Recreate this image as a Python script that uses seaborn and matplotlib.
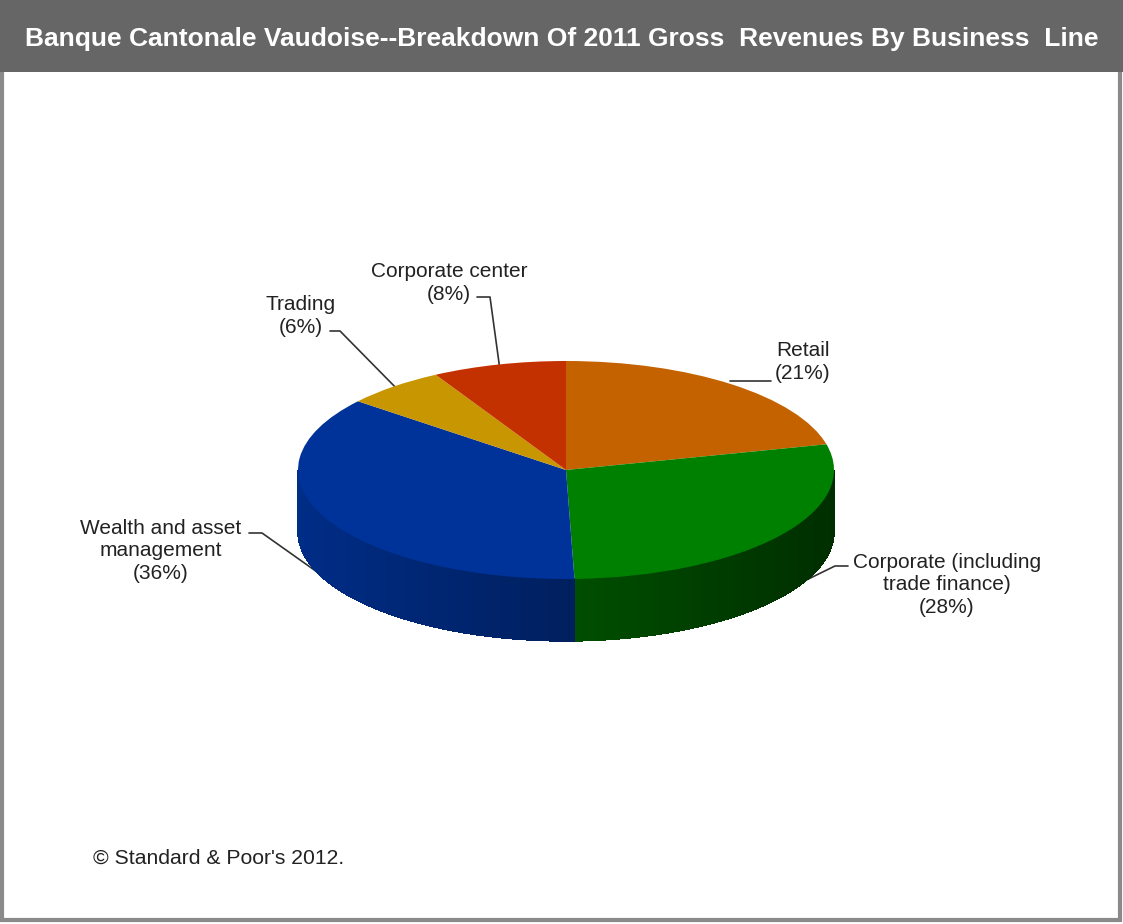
import numpy as np
import matplotlib
matplotlib.use("Agg")
import matplotlib.pyplot as plt
import seaborn as sns
from matplotlib.patches import Polygon, Rectangle
from matplotlib import font_manager

sns.set_theme(style="white")
plt.rcParams["font.family"] = ["Liberation Sans", "DejaVu Sans"]

# ---------------- data ----------------
title = "Banque Cantonale Vaudoise--Breakdown Of 2011 Gross  Revenues By Business  Line"
categories = ["Retail", "Corporate (including\ntrade finance)", "Wealth and asset\nmanagement",
              "Trading", "Corporate center"]
shares = [21, 28, 36, 6, 8]
colors = ["#C46200", "#008000", "#003399", "#C89600", "#C43100"]
source = "\u00a9 Standard & Poor's 2012."

# ---------------- layout ----------------
W, H = 1123, 924
fig = plt.figure(figsize=(W / 100, H / 100), dpi=100)
bg = fig.add_axes([0, 0, 1, 1])
bg.set_xlim(0, W)
bg.set_ylim(H, 0)
bg.axis("off")

bg.add_patch(Rectangle((0, 0), W, H, facecolor="white", edgecolor="none", zorder=0))
bg.add_patch(Rectangle((1.5, 1.5), W - 4.5, H - 6, fill=False, ec="#8a8a8a", lw=3, zorder=1))
bg.add_patch(Rectangle((0, 0), W, 72, facecolor="#666666", edgecolor="none", zorder=2))

names = {f.name for f in font_manager.fontManager.ttflist}
tfam = "Liberation Sans Narrow" if "Liberation Sans Narrow" in names else "Liberation Sans"
t = bg.text(W / 2, 39, title, color="white", ha="center", va="center",
            fontsize=20, fontweight="bold", family=tfam, zorder=3)
fig.canvas.draw()
ext = t.get_window_extent()
t.set_fontsize(20 * 1073 / ext.width)

# pie geometry (pixels)
cx, cy, rx, ry, depth = 566, 470, 268, 109, 62
xlo, xhi, ylo, yhi = -1.2, 1.2, -2.0, 1.3
pax = fig.add_axes([(cx + xlo * rx) / W, (H - (cy - ylo * ry)) / H,
                    (xhi - xlo) * rx / W, (yhi - ylo) * ry / H])
pax.set_zorder(2)
d = depth / ry

fr = np.array(shares, float) / sum(shares)
cum = np.concatenate([[0], np.cumsum(fr)])
a_hi = 90 - cum[:-1] * 360
a_lo = 90 - cum[1:] * 360

def shade(c, x):
    rgb = np.array(matplotlib.colors.to_rgb(c))
    t_ = (x + 1) / 2
    f = 0.88 - 0.52 * t_
    return tuple(rgb * f)

# side walls (front half of each wedge), shaded from left to right
for i in range(len(shares)):
    for base in (-180, 180, -540):
        lo = max(a_lo[i], base)
        hi = min(a_hi[i], base + 180)
        if hi <= lo:
            continue
        edges = np.linspace(lo, hi, max(2, int((hi - lo) / 0.5) + 2))
        for k in range(len(edges) - 1):
            th = np.radians(np.linspace(edges[k], edges[k + 1], 3))
            xs, ys = np.cos(th), np.sin(th)
            pts = np.column_stack([np.concatenate([xs, xs[::-1]]),
                                   np.concatenate([ys, ys[::-1] - d])])
            col = shade(colors[i], np.cos(np.radians((edges[k] + edges[k + 1]) / 2)))
            pax.add_patch(Polygon(pts, closed=True, facecolor=col, edgecolor=col,
                                  lw=0.3, antialiased=False))

# top face
pax.pie(shares, colors=colors, startangle=90, counterclock=False, radius=1,
        center=(0, 0), wedgeprops=dict(linewidth=0), frame=True)
pax.set_xlim(xlo, xhi)
pax.set_ylim(ylo, yhi)
pax.set_aspect("auto")
pax.axis("off")

# ---------------- labels ----------------
def anchor(i, side_frac=0.0, rad=1.0):
    m = np.radians((a_lo[i] + a_hi[i]) / 2)
    return (cx + rx * rad * np.cos(m), cy - ry * rad * np.sin(m) + side_frac * depth)

label_pos = [(803, 362), (947, 585), (161, 551), (301, 316), (449, 283)]
leader_start = [[(771, 381)], [(848, 566), (835, 566)], [(249, 533), (262, 533)],
                [(330, 331), (340, 331)], [(477, 297), (490, 297)]]
side_fracs = [0.0, 0.95, 1.0, 0.0, 0.0]

for i, cat in enumerate(categories):
    txt = f"{cat}\n({shares[i]}%)"
    bg.text(label_pos[i][0], label_pos[i][1], txt, ha="center", va="center",
            fontsize=15, color="#222222", linespacing=1.22, multialignment="center",
            zorder=5)
    ax_, ay_ = anchor(i, side_fracs[i], 0.99)
    if i == 0:
        ay_ = leader_start[i][-1][1]
    pts = leader_start[i] + [(ax_, ay_)]
    xs, ys = zip(*pts)
    bg.plot(xs, ys, color="#333333", lw=1.2, zorder=6)

bg.text(93, 858, source, ha="left", va="center", fontsize=15.2, color="#222222", zorder=5)

fig.savefig("out.png", dpi=100)
